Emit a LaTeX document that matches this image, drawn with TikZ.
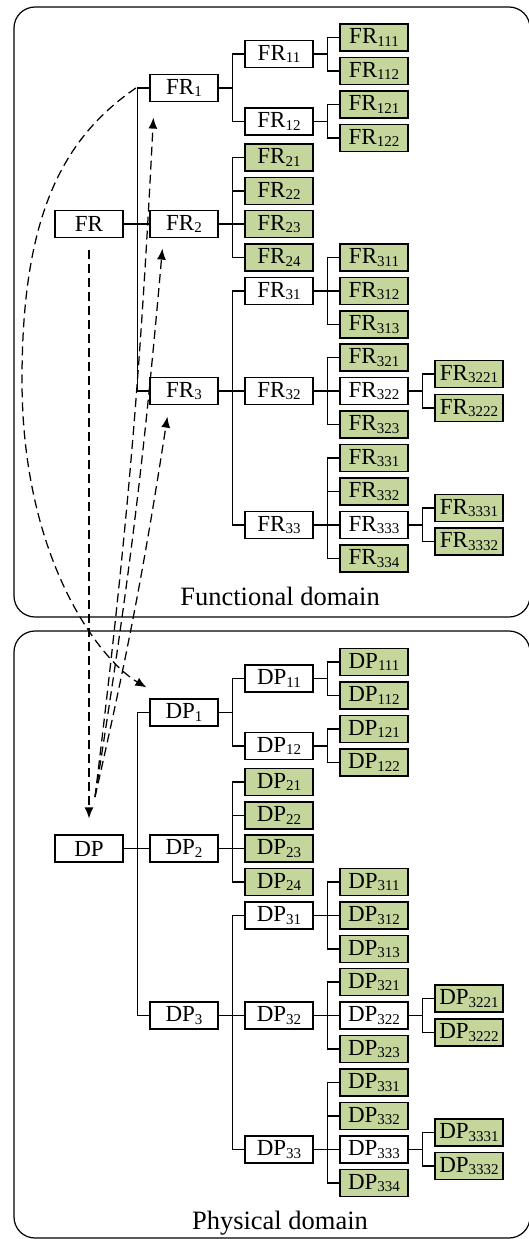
\documentclass[tikz,border=0pt]{standalone}
\usepackage{fontspec}
\setmainfont{Liberation Serif}
\usetikzlibrary{arrows.meta}
\definecolor{leafgreen}{RGB}{196,214,155}

% lowered index digits
\newcommand{\idx}[1]{\raisebox{-2.5pt}{\fontsize{15}{15}\selectfont #1}}

\tikzset{
  box/.style={draw=black, line width=1.2pt, fill=white,
    minimum width=68pt, minimum height=27pt, inner sep=0pt,
    font=\fontsize{23}{26}\selectfont},
  leaf/.style={box, fill=leafgreen, line width=1.4pt},
  conn/.style={line width=1.2pt},
  panel/.style={draw, line width=1.2pt, rounded corners=21pt},
  trace/.style={dash pattern=on 9pt off 5pt, line width=1.25pt,
    -{Latex[length=11pt,width=9pt]}},
  domainlabel/.style={font=\fontsize{26.5}{30}\selectfont, anchor=base},
}

% elbow connectors from a parent to its children
\newcommand{\fanout}[2]{%
  \foreach \kid in {#2}{\draw[conn] (#1.east) -- ++(13.5,0) |- (\kid.west);}}

% one decomposition tree, #1 = FR or DP
\newcommand{\domaintree}[1]{%
  \node[box]  (#1)      at (89,224)    {#1};
  \node[box]  (#1-1)    at (184,88)    {#1\idx{1}};
  \node[box]  (#1-2)    at (184,224)   {#1\idx{2}};
  \node[box]  (#1-3)    at (184,391)   {#1\idx{3}};
  \node[box]  (#1-11)   at (279,54)    {#1\idx{11}};
  \node[box]  (#1-12)   at (279,121.5) {#1\idx{12}};
  \node[leaf] (#1-21)   at (279,157.5) {#1\idx{21}};
  \node[leaf] (#1-22)   at (279,191)   {#1\idx{22}};
  \node[leaf] (#1-23)   at (279,224)   {#1\idx{23}};
  \node[leaf] (#1-24)   at (279,257.5) {#1\idx{24}};
  \node[box]  (#1-31)   at (279,291)   {#1\idx{31}};
  \node[box]  (#1-32)   at (279,391)   {#1\idx{32}};
  \node[box]  (#1-33)   at (279,525)   {#1\idx{33}};
  \node[leaf] (#1-111)  at (374,37.5)  {#1\idx{111}};
  \node[leaf] (#1-112)  at (374,71)    {#1\idx{112}};
  \node[leaf] (#1-121)  at (374,104.5) {#1\idx{121}};
  \node[leaf] (#1-122)  at (374,138)   {#1\idx{122}};
  \node[leaf] (#1-311)  at (374,257.5) {#1\idx{311}};
  \node[leaf] (#1-312)  at (374,291)   {#1\idx{312}};
  \node[leaf] (#1-313)  at (374,324.5) {#1\idx{313}};
  \node[leaf] (#1-321)  at (374,357.5) {#1\idx{321}};
  \node[box]  (#1-322)  at (374,391)   {#1\idx{322}};
  \node[leaf] (#1-323)  at (374,424.5) {#1\idx{323}};
  \node[leaf] (#1-331)  at (374,458)   {#1\idx{331}};
  \node[leaf] (#1-332)  at (374,491.5) {#1\idx{332}};
  \node[box]  (#1-333)  at (374,525)   {#1\idx{333}};
  \node[leaf] (#1-334)  at (374,558.5) {#1\idx{334}};
  \node[leaf] (#1-3221) at (469,374)   {#1\idx{3221}};
  \node[leaf] (#1-3222) at (469,408)   {#1\idx{3222}};
  \node[leaf] (#1-3331) at (469,508)   {#1\idx{3331}};
  \node[leaf] (#1-3332) at (469,541.5) {#1\idx{3332}};
  \fanout{#1}{#1-1,#1-2,#1-3}
  \fanout{#1-1}{#1-11,#1-12}
  \fanout{#1-2}{#1-21,#1-22,#1-23,#1-24}
  \fanout{#1-3}{#1-31,#1-32,#1-33}
  \fanout{#1-11}{#1-111,#1-112}
  \fanout{#1-12}{#1-121,#1-122}
  \fanout{#1-31}{#1-311,#1-312,#1-313}
  \fanout{#1-32}{#1-321,#1-322,#1-323}
  \fanout{#1-33}{#1-331,#1-332,#1-333,#1-334}
  \fanout{#1-322}{#1-3221,#1-3222}
  \fanout{#1-333}{#1-3331,#1-3332}
}

\begin{document}
\begin{tikzpicture}[x=1pt,y=-1pt]
  \useasboundingbox (0,0) rectangle (528,1239);

  % domain frames
  \draw[panel] (14,7) rectangle (530,617);
  \draw[panel] (14,631) rectangle (530,1238);
  \node[domainlabel] (fdom) at (280,605) {Functional domain};
  \node[domainlabel] (pdom) at (280,1229.5) {Physical domain};

  % functional and physical hierarchies
  \domaintree{FR}
  \begin{scope}[yshift=-624.5pt]
    \domaintree{DP}
  \end{scope}

  % zigzag mapping between the domains
  \coordinate (src) at (95,797);
  \draw[trace, shorten <=12pt, shorten >=16pt] (FR.south) -- (DP.north);
  \draw[trace] ([xshift=-13.5pt]FR-1.west)
     .. controls (60,140) and (22,220) .. (22,380)
     .. controls (22,560) and (100,660) .. ([xshift=-3pt,yshift=11pt]DP-1.north west);
  \draw[trace] (src) to[bend right=2] ([xshift=4pt,yshift=-15.5pt]FR-1.south west);
  \draw[trace] (src) to[bend right=2] ([xshift=13pt,yshift=-10.5pt]FR-2.south west);
  \draw[trace] (src) to[bend right=2] ([xshift=18pt,yshift=-11.5pt]FR-3.south west);
\end{tikzpicture}
\end{document}
